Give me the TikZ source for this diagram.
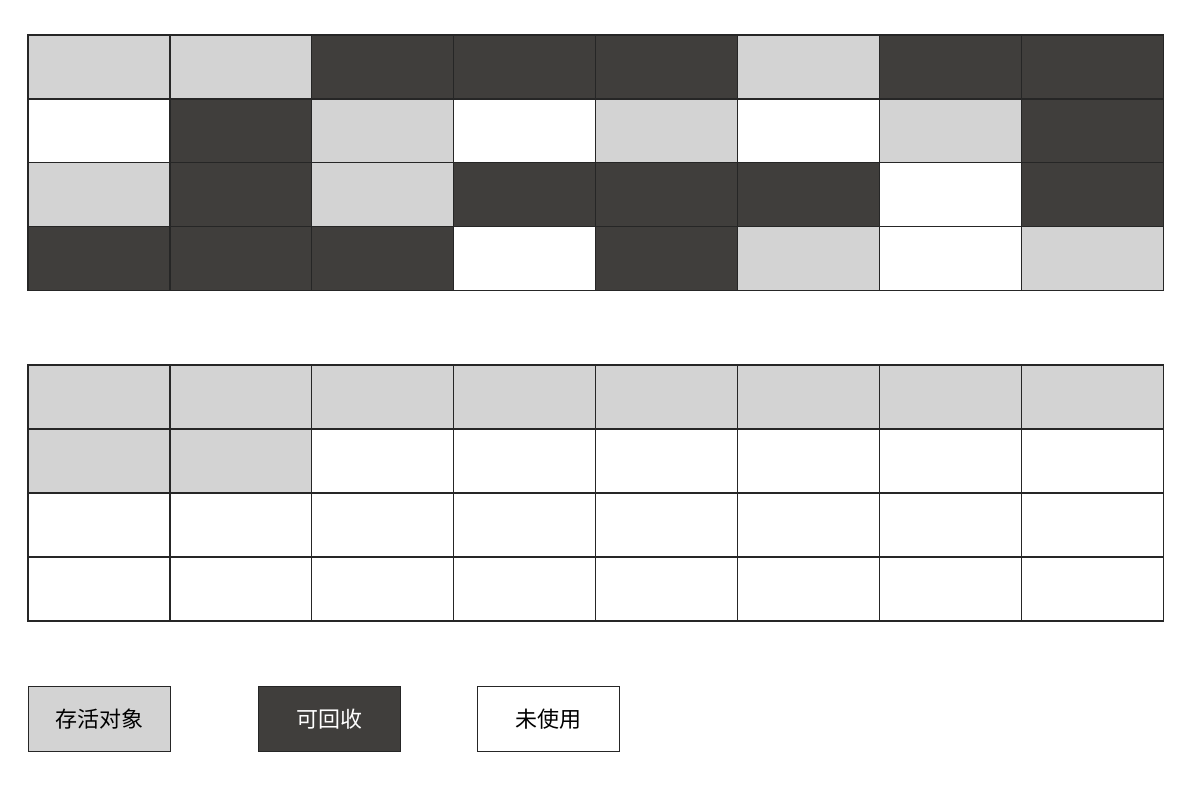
\documentclass[tikz,border=0pt]{standalone}
\usepackage{fontspec}
\newfontfamily\cjk{Noto Sans CJK SC}
\definecolor{live}{HTML}{D3D3D3}
\definecolor{dead}{HTML}{403E3C}
\definecolor{edge}{HTML}{262626}
\tikzset{
  cell/.style={minimum width=141.9pt, minimum height=63.9pt, inner sep=0pt, outer sep=0pt, anchor=north west},
  L/.style={cell, fill=live},
  D/.style={cell, fill=dead},
  W/.style={cell, fill=white},
  gridline/.style={draw=edge, line width=1.3pt},
  legend/.style={draw=edge, line width=1.3pt, minimum width=142pt, minimum height=65pt, inner sep=0pt, anchor=north west, font=\cjk\fontsize{22}{24}\selectfont},
}
\begin{document}
\begin{tikzpicture}[x=1pt,y=-1pt]
\useasboundingbox (0,0) rectangle (1186,789);
% top grid
\foreach \row [count=\r from 0] in {{L,L,D,D,D,L,D,D},{W,D,L,W,L,W,L,D},{L,D,L,D,D,D,W,D},{D,D,D,W,D,L,W,L}}{
  \foreach \t [count=\c from 0] in \row {
    \node[\t] (a-\r-\c) at ({28+141.9*\c},{35+63.8*\r}) {};
  }
}
% bottom grid
\foreach \row [count=\r from 0] in {{L,L,L,L,L,L,L,L},{L,L,W,W,W,W,W,W},{W,W,W,W,W,W,W,W},{W,W,W,W,W,W,W,W}}{
  \foreach \t [count=\c from 0] in \row {
    \node[\t] (b-\r-\c) at ({28+141.9*\c},{365+64*\r}) {};
  }
}
% grid lines on top of the fills
\foreach \r in {0,...,3}{
  \foreach \c in {0,...,7}{
    \draw[gridline] (a-\r-\c.north west) rectangle (a-\r-\c.south east);
    \draw[gridline] (b-\r-\c.north west) rectangle (b-\r-\c.south east);
  }
}
% legend
\node[legend, fill=live] (live) at (28,686) {存活对象};
\node[legend, fill=dead, text=white] (dead) at (258,686) {可回收};
\node[legend, fill=white] (free) at (477,686) {未使用};
\end{tikzpicture}
\end{document}
